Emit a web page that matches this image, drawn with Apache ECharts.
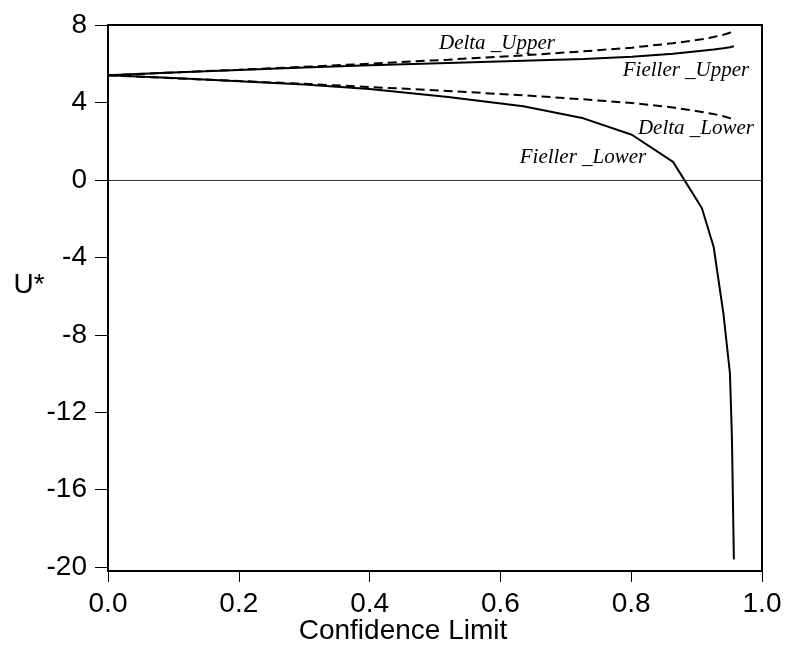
<!DOCTYPE html>
<html>
<head>
<meta charset="utf-8">
<script src="https://cdn.jsdelivr.net/npm/echarts@6/dist/echarts.min.js"></script>
<style>html,body{margin:0;padding:0;background:#fff;}#c{width:789px;height:649px;}</style>
</head>
<body>
<div id="c"></div>
<script>
const confidence = [0, 0.1, 0.2, 0.3, 0.4, 0.52, 0.635, 0.727, 0.801, 0.864, 0.908, 0.926, 0.941, 0.951, 0.954, 0.957];
const fiellerLower = [5.40, 5.26, 5.10, 4.93, 4.70, 4.28, 3.80, 3.18, 2.33, 0.93, -1.45, -3.45, -6.9, -10.0, -13.3, -19.6];
const fiellerUpper = [5.40, 5.55, 5.68, 5.80, 5.92, 6.04, 6.15, 6.25, 6.36, 6.52, 6.67, 6.73, 6.80, 6.85, 6.87, 6.90];
const deltaUpper = [5.40, 5.55, 5.69, 5.84, 6.00, 6.21, 6.43, 6.64, 6.83, 7.06, 7.26, 7.38, 7.50, 7.60, 7.65, 7.72];
const deltaLower = [5.40, 5.25, 5.11, 4.96, 4.80, 4.59, 4.37, 4.16, 3.97, 3.74, 3.51, 3.40, 3.29, 3.19, 3.15, 3.10];
const yTicks = [-20, -16, -12, -8, -4, 0, 4, 8];
const xTicks = [0.0, 0.2, 0.4, 0.6, 0.8, 1.0];
const labelTexts = ['Delta _Upper', 'Fieller _Upper', 'Delta _Lower', 'Fieller _Lower'];
const xName = 'Confidence Limit';
const yName = 'U*';

const pair = arr => confidence.map((x, i) => [x, arr[i]]);
const axisFont = "'Liberation Sans', Arial, sans-serif";
const chart = echarts.init(document.getElementById('c'), null, {renderer: 'canvas'});
const solid = {color: '#000', width: 2, type: 'solid'};
const dashed = {color: '#000', width: 2, type: [9, 5]};
const labelPos = [[497, 43], [686, 70], [696, 128], [583, 157]];
chart.setOption({
  animation: false,
  backgroundColor: '#fff',
  grid: {left: 108, right: 27, top: 25, bottom: 78, show: true, borderColor: '#000', borderWidth: 2, backgroundColor: 'transparent'},
  xAxis: {
    type: 'value', min: 0, max: 1, interval: 0.2,
    axisLine: {show: true, onZero: false, lineStyle: {color: '#000', width: 2}},
    axisTick: {show: true, length: 11, lineStyle: {color: '#000', width: 1}},
    axisLabel: {fontFamily: axisFont, fontSize: 28, color: '#000', margin: 19,
      customValues: xTicks, formatter: v => v.toFixed(1)},
    splitLine: {show: false}
  },
  yAxis: {
    type: 'value', min: -20.2, max: 8,
    axisLine: {show: true, onZero: false, lineStyle: {color: '#000', width: 2}},
    axisTick: {show: true, length: 13, customValues: yTicks, lineStyle: {color: '#000', width: 1}},
    axisLabel: {fontFamily: axisFont, fontSize: 28, color: '#000', margin: 21,
      customValues: yTicks, formatter: v => String(v)},
    splitLine: {show: false}
  },
  series: [
    {name: 'Delta_Upper', type: 'line', data: pair(deltaUpper), showSymbol: false, lineStyle: dashed, z: 3,
      markLine: {silent: true, symbol: 'none', label: {show: false}, lineStyle: {color: '#333', width: 1, type: 'solid'}, data: [{yAxis: 0}]}},
    {name: 'Fieller_Upper', type: 'line', data: pair(fiellerUpper), showSymbol: false, lineStyle: solid, z: 3},
    {name: 'Delta_Lower', type: 'line', data: pair(deltaLower), showSymbol: false, lineStyle: dashed, z: 3},
    {name: 'Fieller_Lower', type: 'line', data: pair(fiellerLower), showSymbol: false, lineStyle: solid, z: 3}
  ],
  graphic: labelTexts.map((t, i) => ({type: 'text', x: labelPos[i][0], y: labelPos[i][1], z: 10,
      style: {text: t, fill: '#000', font: "italic 21px 'Liberation Serif', 'Times New Roman', serif", textAlign: 'center', textVerticalAlign: 'middle'}}))
    .concat([
      {type: 'text', x: 403, y: 631, style: {text: xName, fill: '#000', font: "28px 'Liberation Sans', Arial, sans-serif", textAlign: 'center', textVerticalAlign: 'middle'}},
      {type: 'text', x: 29, y: 285, style: {text: yName, fill: '#000', font: "28px 'Liberation Sans', Arial, sans-serif", textAlign: 'center', textVerticalAlign: 'middle'}}
    ])
});
</script>
</body>
</html>
